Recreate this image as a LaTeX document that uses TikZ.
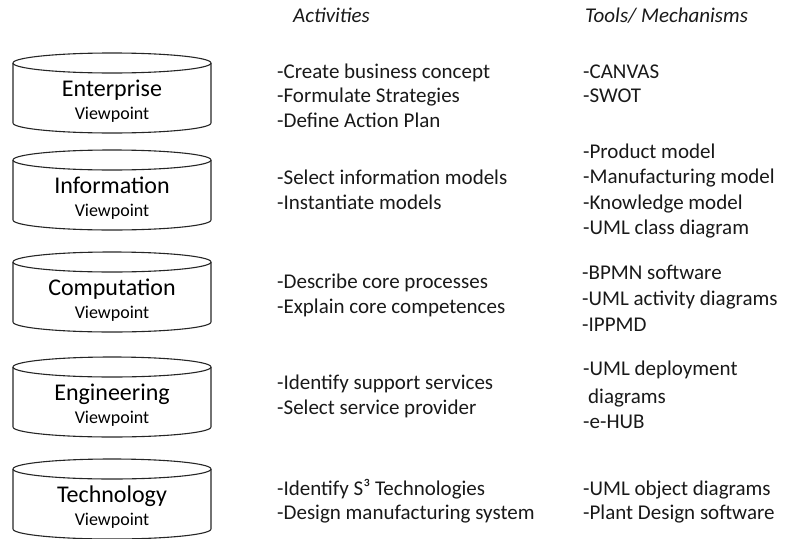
\documentclass[tikz,border=0pt]{standalone}
\usepackage{fontspec}
\setmainfont{Carlito}
\tikzset{
  vcyl/.style={line width=1.1pt, draw=black!85},
  vtitle/.style={font=\fontsize{24}{28}\selectfont, anchor=base, inner sep=0pt},
  vsub/.style={font=\fontsize{18}{21}\selectfont, anchor=base, inner sep=0pt},
  item/.style={font=\fontsize{21}{25}\selectfont, anchor=base west, inner sep=0pt, text=black!90},
  head/.style={font=\fontsize{21}{25}\selectfont\itshape, anchor=base west, inner sep=0pt, text=black!90}
}
\begin{document}
\begin{tikzpicture}[x=1pt,y=1pt]
\useasboundingbox (0,0) rectangle (792,-538);
% column heads
\node[head] (acthead) at (293,-23) {Activities};
\node[head] (toolhead) at (585,-23) {Tools/ Mechanisms};
% viewpoint cylinders
\foreach \t/\nm/\lbl in {53/ent/Enterprise,150/inf/Information,252/comp/Computation,357/eng/Engineering,459/tech/Technology}{
  \draw[vcyl] (112,-\t-10) ellipse [x radius=99, y radius=10];
  \draw[vcyl] (13,-\t-10) -- (13,-\t-70) arc[start angle=180, end angle=360, x radius=99, y radius=10] -- (211,-\t-10);
  \node[vtitle] (\nm-title) at (112,-\t-43) {\lbl};
  \node[vsub] (\nm-vp) at (112,-\t-66) {Viewpoint};
}
% enterprise
\foreach \s [count=\i] in {-Create business concept,-Formulate Strategies,-Define Action Plan}
  \node[item] (ent-act-\i) at (277,{-78-24.5*(\i-1)}) {\s};
\foreach \s [count=\i] in {-CANVAS,-SWOT}
  \node[item] (ent-tool-\i) at (583,{-78-24.5*(\i-1)}) {\s};
% information
\foreach \s [count=\i] in {-Select information models,-Instantiate models}
  \node[item] (inf-act-\i) at (277,{-184-25*(\i-1)}) {\s};
\foreach \s [count=\i] in {-Product model,-Manufacturing model,-Knowledge model,-UML class diagram}
  \node[item] (inf-tool-\i) at (583,{-158-25.5*(\i-1)}) {\s};
% computation
\foreach \s [count=\i] in {-Describe core processes,-Explain core competences}
  \node[item] (comp-act-\i) at (277,{-288-25*(\i-1)}) {\s};
\foreach \s [count=\i] in {-BPMN software,-UML activity diagrams,-IPPMD}
  \node[item] (comp-tool-\i) at (582,{-279-26*(\i-1)}) {\s};
% engineering
\foreach \s [count=\i] in {-Identify support services,-Select service provider}
  \node[item] (eng-act-\i) at (277,{-389-25*(\i-1)}) {\s};
\node[item] (eng-tool-1) at (583,-375) {-UML deployment};
\node[item] (eng-tool-2) at (588,-403) {diagrams};
\node[item] (eng-tool-3) at (583,-428) {-e-HUB};
% technology
\foreach \s [count=\i] in {-Identify S³ Technologies,-Design manufacturing system}
  \node[item] (tech-act-\i) at (277,{-495-24*(\i-1)}) {\s};
\foreach \s [count=\i] in {-UML object diagrams,-Plant Design software}
  \node[item] (tech-tool-\i) at (583,{-495-24*(\i-1)}) {\s};
\end{tikzpicture}
\end{document}
